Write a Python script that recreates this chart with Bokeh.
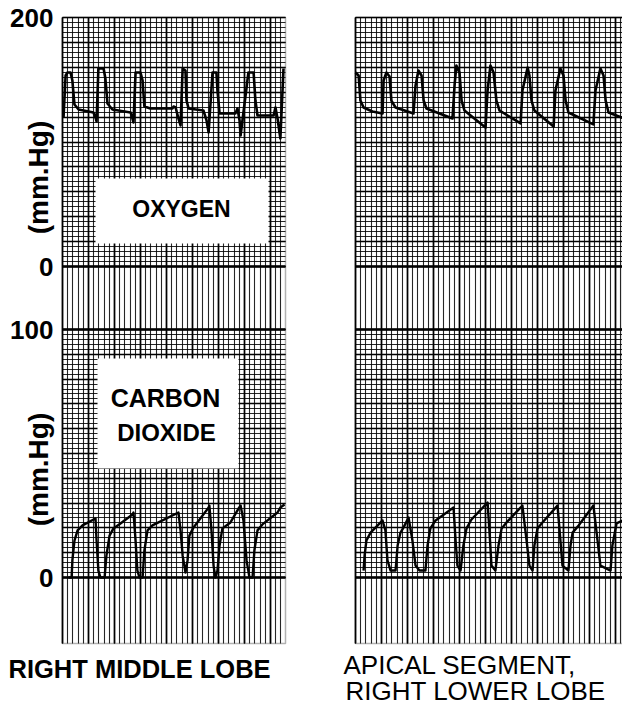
import numpy as np
from bokeh.plotting import figure
from bokeh.models import Range1d, FixedTicker, Grid, BoxAnnotation, Label
from bokeh.layouts import row
from bokeh.embed import file_html
from bokeh.resources import INLINE

# ------------------------------------------------------------------ data
# time in chart divisions, gas tension in mm Hg
o2_left_t = [0.04, 0.12, 0.19, 0.31, 0.38, 0.46, 0.62, 1.19, 1.27, 1.31, 1.38, 1.58, 1.65, 1.73,
             1.92, 2.62, 2.69, 2.73, 2.81, 3.00, 3.08, 3.15, 3.38, 4.23, 4.27, 4.35, 4.46, 4.54,
             4.62, 4.73, 4.77, 4.85, 5.42, 5.54, 5.62, 5.77, 5.92, 5.96, 6.04, 6.65, 6.73, 6.81,
             6.85, 7.15, 7.35, 7.42, 7.50, 8.12, 8.19, 8.27, 8.38, 8.50]
o2_left_v = [119.7, 153.4, 155.8, 155.8, 149.4, 130.1, 126.1, 123.7, 119.7, 116.5, 159.0, 159.0,
             151.0, 130.9, 126.1, 123.7, 118.9, 115.7, 155.8, 155.8, 149.4, 128.5, 126.9, 126.9,
             128.5, 127.7, 118.9, 113.3, 159.0, 157.4, 133.3, 126.9, 125.3, 117.3, 107.6, 155.8,
             155.8, 141.4, 122.9, 122.9, 126.9, 117.3, 105.2, 155.8, 155.8, 133.3, 121.3, 121.3,
             127.7, 118.9, 102.8, 159.0]

co2_left_t = [0.23, 0.35, 0.38, 0.46, 0.58, 0.77, 1.27, 1.31, 1.38, 1.46, 1.62, 1.69, 1.81, 1.96,
              2.23, 2.69, 2.73, 2.81, 2.88, 2.96, 3.08, 3.15, 3.27, 3.46, 4.46, 4.54, 4.62, 4.73,
              4.81, 4.88, 5.04, 5.62, 5.65, 5.73, 5.81, 5.88, 5.96, 6.04, 6.15, 6.46, 6.77, 6.85,
              6.96, 7.08, 7.19, 7.31, 7.38, 7.50, 7.69, 8.27, 8.38, 8.54]
co2_left_v = [0.0, 0.0, 6.9, 14.9, 19.0, 21.0, 23.8, 14.9, 2.8, 0.0, 0.0, 8.9, 16.9, 19.8, 21.8,
              25.4, 26.2, 14.9, 2.8, 0.0, 0.0, 10.9, 19.0, 21.0, 26.2, 19.0, 8.9, 2.0, 6.9, 16.9,
              20.2, 28.2, 29.0, 19.0, 4.8, 0.0, 2.8, 12.9, 19.8, 22.2, 27.8, 29.0, 23.0, 6.9, 0.0,
              0.0, 10.9, 19.0, 21.4, 26.2, 28.2, 29.4]

o2_right_t = [0.00, 0.12, 0.19, 0.31, 0.65, 1.04, 1.08, 1.19, 1.31, 1.38, 1.54, 2.23, 2.31, 2.42,
              2.54, 2.62, 2.73, 3.73, 3.81, 3.88, 4.00, 4.08, 4.19, 5.00, 5.08, 5.19, 5.31, 5.42,
              5.54, 6.35, 6.42, 6.62, 6.69, 6.77, 6.88, 7.62, 7.69, 7.88, 8.00, 8.08, 8.19, 9.15,
              9.23, 9.42, 9.54, 9.62, 9.73, 10.27]
o2_right_v = [155.8, 153.4, 133.3, 127.7, 124.5, 122.9, 149.4, 155.8, 152.6, 133.3, 127.7, 122.9,
              145.4, 157.4, 153.4, 133.3, 126.9, 118.9, 145.4, 161.4, 155.8, 133.3, 125.3, 111.6,
              141.4, 161.4, 155.8, 133.3, 125.3, 114.9, 141.4, 159.8, 153.4, 133.3, 125.3, 112.4,
              141.4, 159.0, 153.4, 133.3, 123.7, 114.1, 141.4, 159.0, 153.4, 133.3, 123.7, 119.5]

co2_right_t = [0.31, 0.35, 0.42, 0.58, 1.04, 1.15, 1.23, 1.35, 1.54, 1.62, 1.73, 1.85, 2.04, 2.19,
               2.31, 2.46, 2.69, 2.77, 2.88, 3.08, 3.77, 3.85, 3.92, 4.04, 4.15, 4.27, 4.46, 5.08,
               5.15, 5.23, 5.38, 5.50, 5.62, 5.81, 6.42, 6.58, 6.69, 6.81, 6.88, 7.00, 7.19, 7.77,
               7.85, 7.96, 8.19, 8.27, 8.35, 8.58, 9.15, 9.31, 9.42, 9.81, 9.88, 10.04, 10.27]
co2_right_v = [2.8, 8.9, 14.9, 18.1, 23.0, 19.0, 6.9, 2.8, 2.8, 12.9, 18.1, 20.2, 24.2, 14.9, 4.8,
               2.8, 2.8, 12.9, 19.8, 23.0, 28.2, 14.9, 4.8, 2.8, 12.9, 19.8, 23.4, 30.2, 19.0, 4.8,
               2.8, 12.9, 19.8, 22.2, 29.0, 14.9, 4.8, 2.8, 12.9, 19.8, 22.2, 29.0, 19.0, 4.8, 2.8,
               12.9, 18.1, 21.0, 29.0, 14.9, 4.8, 2.8, 12.9, 21.8, 23.0]

o2_scale_values = [200, 0]
co2_scale_values = [100, 0]
unit_text = "(mm.Hg)"
gas_names = ["OXYGEN", "CARBON", "DIOXIDE"]
left_caption = ["RIGHT MIDDLE LOBE"]
right_caption = ["APICAL SEGMENT,", "RIGHT LOWER LOBE"]

# ------------------------------------------------------------------ layout / style (pixels)
H = 707
PX_PER_DIV = 26.0          # px per chart division (time)
O2_PX = 1.245              # px per mm Hg, oxygen channel
CO2_PX = 2.48              # px per mm Hg, CO2 channel
O2_ZERO_Y = 266
CO2_ZERO_Y = 577
PAPER_TOP_Y = 17
PAPER_BOTTOM_Y = 643
FONT = "Liberation Sans"
INK = "black"


def o2_at(sy):
    return (O2_ZERO_Y - sy) / O2_PX


def co2_at(sy):
    return (CO2_ZERO_Y - sy) / CO2_PX


def make_panel(fig_x0, fig_w, paper_x0, paper_x1, o2_t, o2_v, co2_t, co2_v):
    def xd(px):
        return (px - paper_x0) / PX_PER_DIV

    x_paper_end = xd(paper_x1)
    p = figure(width=fig_w, height=H,
               x_range=Range1d(xd(fig_x0), xd(fig_x0 + fig_w)),
               y_range=Range1d(o2_at(H), o2_at(0)),
               output_backend="svg", toolbar_location=None,
               min_border=0, min_border_left=0, min_border_right=0,
               min_border_top=0, min_border_bottom=0,
               background_fill_color="white", border_fill_color="white",
               outline_line_color=None)
    p.extra_y_ranges = {"co2": Range1d(co2_at(H), co2_at(0))}
    p.xaxis.visible = False
    p.yaxis.visible = False
    p.xgrid.visible = False
    p.ygrid.visible = False

    paper_y = (o2_at(PAPER_BOTTOM_Y), o2_at(PAPER_TOP_Y))
    paper_x = (0, x_paper_end)
    major = dict(grid_line_color=INK, grid_line_alpha=1.0, grid_line_width=1.7,
                 minor_grid_line_color=INK, minor_grid_line_alpha=0.85,
                 minor_grid_line_width=1.1)

    # vertical rulings over the whole strip
    p.add_layout(Grid(dimension=0, cross_bounds=paper_y,
                      ticker=FixedTicker(ticks=list(np.arange(0, x_paper_end, 1.0)),
                                         minor_ticks=list(np.arange(0, x_paper_end, 0.2))),
                      **major), "center")
    # horizontal rulings, oxygen channel 0..200
    p.add_layout(Grid(dimension=1, cross_bounds=paper_x,
                      ticker=FixedTicker(ticks=list(np.arange(0, 201, 20)),
                                         minor_ticks=list(np.arange(0, 201, 4))),
                      **major), "center")
    # horizontal rulings, CO2 channel 0..100
    p.add_layout(Grid(dimension=1, cross_bounds=paper_x, y_range_name="co2",
                      ticker=FixedTicker(ticks=list(np.arange(0, 101, 10)),
                                         minor_ticks=list(np.arange(0, 101, 2))),
                      **major), "center")
    # heavy base lines
    p.add_layout(Grid(dimension=1, cross_bounds=paper_x,
                      ticker=FixedTicker(ticks=[0]), grid_line_color=INK,
                      grid_line_width=2.5), "center")
    p.add_layout(Grid(dimension=1, cross_bounds=paper_x, y_range_name="co2",
                      ticker=FixedTicker(ticks=[0, 100]), grid_line_color=INK,
                      grid_line_width=2.5), "center")
    # paper edge
    p.add_layout(BoxAnnotation(left=paper_x[0], right=paper_x[1], bottom=paper_y[0],
                               top=paper_y[1], fill_color=None, fill_alpha=0,
                               line_color=INK, line_width=1.5))

    p.line(o2_t, o2_v, line_color=INK, line_width=2.6, line_join="round")
    p.line(co2_t, co2_v, y_range_name="co2", line_color=INK, line_width=2.4,
           line_join="round")
    return p, xd


def lab(p, x, y, text, size, bold=True, align="center", angle=0.0, rng="default"):
    p.add_layout(Label(x=x, y=y, y_range_name=rng, text=text, angle=angle,
                       text_align=align, text_baseline="middle", text_font=FONT,
                       text_font_size=size, text_font_style="bold" if bold else "normal",
                       text_color=INK))


left, lx = make_panel(0, 310, 62, 285, o2_left_t, o2_left_v, co2_left_t, co2_left_v)
right, rx = make_panel(310, 312, 355, 622, o2_right_t, o2_right_v, co2_right_t, co2_right_v)

# white label boxes on the left record
left.add_layout(BoxAnnotation(left=lx(95), right=lx(268), bottom=o2_at(243), top=o2_at(178),
                              fill_color="white", fill_alpha=1, line_color=None))
left.add_layout(BoxAnnotation(left=lx(97), right=lx(238), bottom=co2_at(468), top=co2_at(358),
                              y_range_name="co2", fill_color="white", fill_alpha=1,
                              line_color=None))
lab(left, lx(181), o2_at(208), gas_names[0], "23px")
lab(left, lx(165), co2_at(397), gas_names[1], "25px", rng="co2")
lab(left, lx(166), co2_at(432), gas_names[2], "24px", rng="co2")

# scale numbers
for v in o2_scale_values:
    lab(left, lx(53), v, str(v), "26px", align="right")
for v in co2_scale_values:
    lab(left, lx(53), v, str(v), "26px", align="right", rng="co2")

# units
lab(left, lx(38), o2_at(177), unit_text, "28px", angle=np.pi / 2)
lab(left, lx(38), co2_at(469), unit_text, "28px", angle=np.pi / 2, rng="co2")

# captions
lab(left, lx(8), o2_at(668), left_caption[0], "25.5px", align="left")
lab(right, rx(343), o2_at(664), right_caption[0], "26px", bold=False, align="left")
lab(right, rx(345), o2_at(690), right_caption[1], "26px", bold=False, align="left")

layout = row(left, right, spacing=0)
open("out.html", "w").write(file_html(layout, INLINE))
